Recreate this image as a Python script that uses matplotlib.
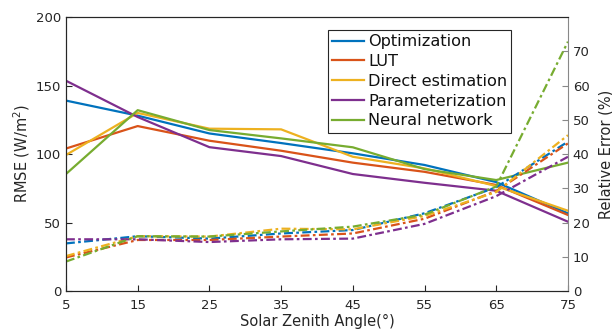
import matplotlib
matplotlib.use("Agg")
import matplotlib.pyplot as plt

angles = [5, 15, 25, 35, 45, 55, 65, 75]
methods = ["Optimization", "LUT", "Direct estimation", "Parameterization", "Neural network"]
colors = ["#0072BD", "#D95319", "#EDB120", "#7E2F8E", "#77AC30"]

rmse_opt = [139, 128, 115, 108, 100.5, 92, 79.5, 56.7]
rmse_lut = [104, 120.4, 109.7, 102.4, 93.7, 87, 77.4, 55.5]
rmse_dir = [99.3, 130, 118.5, 118, 98, 89.5, 76.6, 58.6]
rmse_par = [153.5, 127, 105, 98.5, 85.4, 79, 73.2, 50.6]
rmse_nn = [85.4, 132, 117.5, 111.4, 104.9, 89, 81, 93.7]

rel_opt = [13.9, 16.0, 15.3, 16.8, 17.8, 22.7, 30.3, 43.6]
rel_lut = [9.8, 14.9, 14.9, 15.9, 16.8, 21.1, 29.2, 43.1]
rel_dir = [10.2, 16.0, 15.9, 18.2, 18.0, 21.9, 28.9, 45.5]
rel_par = [15.1, 15.1, 14.3, 15.1, 15.3, 19.6, 27.7, 39.2]
rel_nn = [8.6, 16.0, 15.9, 17.4, 18.8, 22.3, 30.5, 72.8]

rmse = [rmse_opt, rmse_lut, rmse_dir, rmse_par, rmse_nn]
rel = [rel_opt, rel_lut, rel_dir, rel_par, rel_nn]

plt.rcParams['font.family'] = ['DejaVu Sans']
fig = plt.figure(figsize=(6.12, 3.31), dpi=100)
ax = fig.add_axes([0.1078, 0.1208, 0.8202, 0.8278])
ax2 = ax.twinx()

dark = "#262626"
handles = []
for m, c, r in zip(methods, colors, rmse):
    h, = ax.plot(angles, r, color=c, lw=1.6, label=m)
    handles.append(h)
for c, r in zip(colors, rel):
    ax2.plot(angles, r, color=c, lw=1.6, linestyle=(0, (4, 1.5, 1.2, 1.5)))

ax.set_xlim(5, 75)
ax.set_ylim(0, 200)
ax.set_xticks(angles)
ax.set_yticks([0, 50, 100, 150, 200])
ax2.set_ylim(0, 80)
ax2.set_yticks([0, 10, 20, 30, 40, 50, 60, 70])

ax.tick_params(direction='in', length=4, labelsize=9.5, colors=dark, width=0.8)
ax.tick_params(axis='x', pad=6)
ax2.tick_params(direction='in', length=4, labelsize=9.5, colors="#888888", labelcolor=dark, width=0.8)
for s in ['left', 'bottom', 'top']:
    ax.spines[s].set_color(dark)
    ax2.spines[s].set_color(dark)
ax2.spines['right'].set_color("#888888")
ax.spines['right'].set_visible(False)

ax.set_xlabel("Solar Zenith Angle(°)", fontsize=10.5, color=dark, labelpad=1)
ax.set_ylabel("RMSE (W/m$^2$)", fontsize=10.5, color=dark, labelpad=3)
ax2.set_ylabel("Relative Error (%)", fontsize=10.5, color=dark, labelpad=6)

leg = ax2.legend(handles=handles, loc='upper left', bbox_to_anchor=(0.536, 0.909),
                 bbox_transform=fig.transFigure, fontsize=11.6, frameon=True,
                 fancybox=False, framealpha=1, edgecolor=dark, borderpad=0.25,
                 labelspacing=0.3, handlelength=2.0, handletextpad=0.25, borderaxespad=0)
leg.get_frame().set_linewidth(0.8)
for t in leg.get_texts():
    t.set_color("#111111")

fig.savefig("out.png", dpi=100)
